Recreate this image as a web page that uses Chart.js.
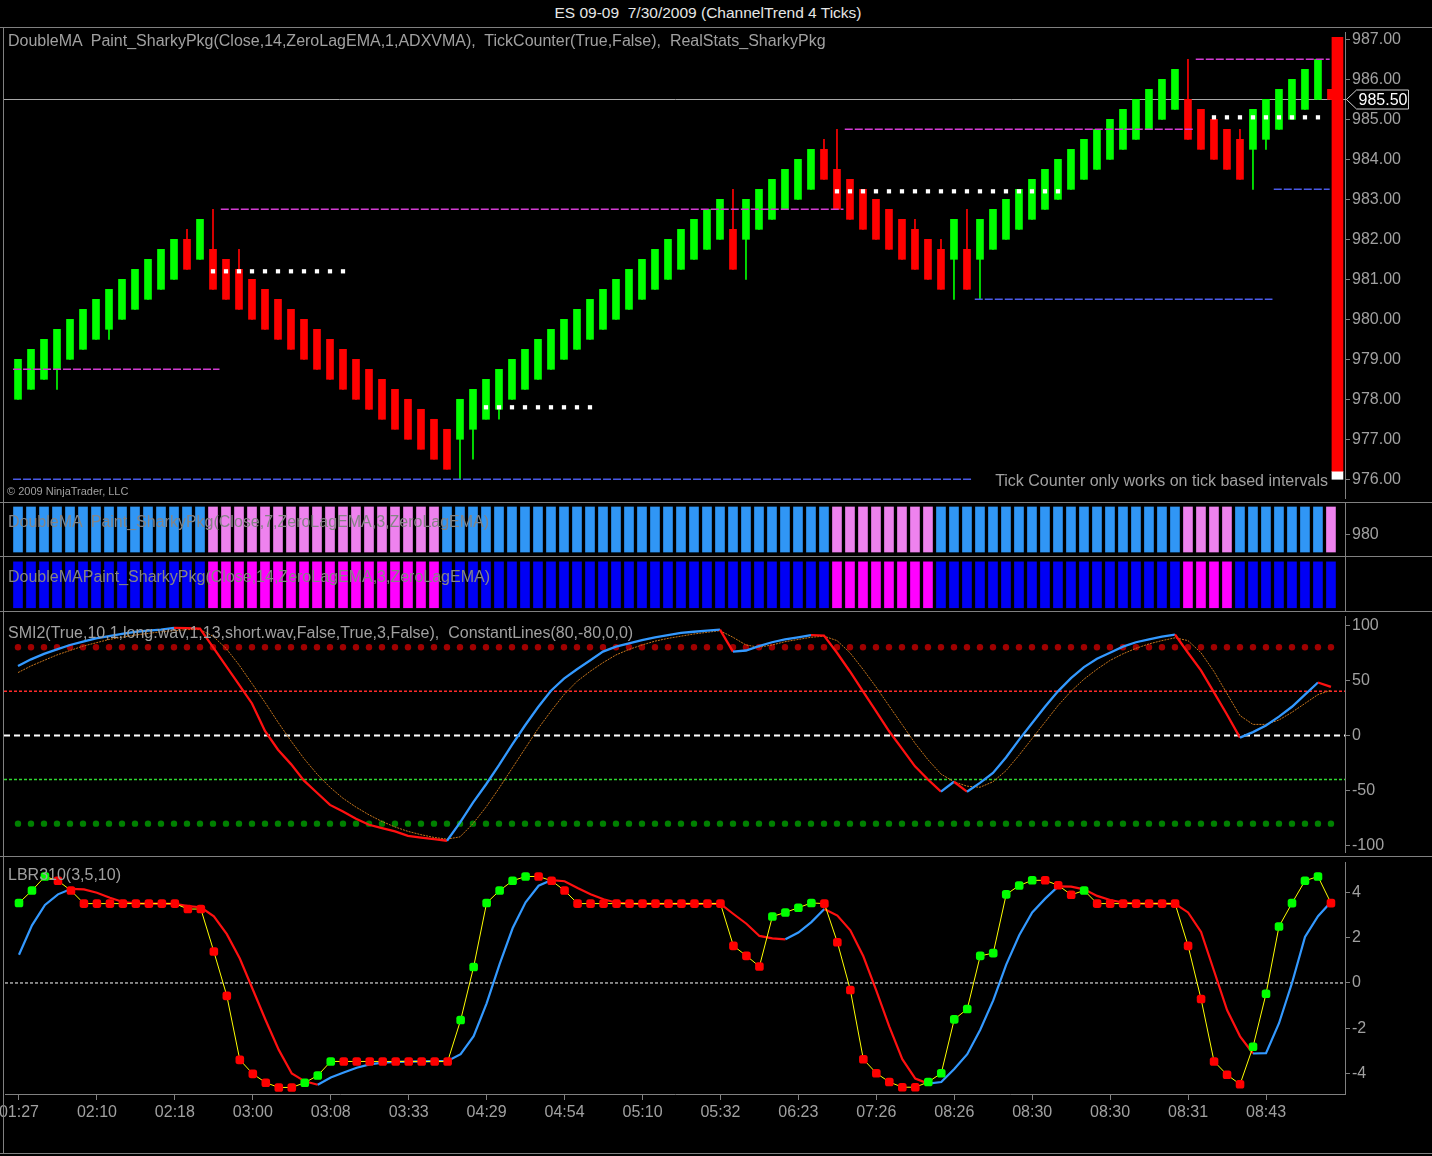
<!DOCTYPE html>
<html>
<head>
<meta charset="utf-8">
<title>ES 09-09 7/30/2009 (ChannelTrend 4 Ticks)</title>
<script src="https://cdn.jsdelivr.net/npm/chart.js@4.4.1/dist/chart.umd.min.js"></script>
<style>
  html, body { margin: 0; padding: 0; background: #000; }
  #page { position: relative; width: 1432px; height: 1156px; overflow: hidden; background: #000;
          font-family: "Liberation Sans", Arial, sans-serif; }
  canvas { position: absolute; left: 0; }
  .hline { position: absolute; left: 0; width: 1432px; height: 1px; background: #808080; }
  .vline { position: absolute; width: 1px; background: #808080; }
  .lbl { position: absolute; white-space: pre; color: #a0a0a0; font-size: 16px; line-height: 18px; }
</style>
</head>
<body>
<div id="page">
  <canvas id="main" width="1432" height="474" style="top:28px"></canvas>
  <canvas id="strip1" width="1432" height="53" style="top:503px"></canvas>
  <canvas id="strip2" width="1432" height="54" style="top:557px"></canvas>
  <canvas id="smi" width="1432" height="244" style="top:612px"></canvas>
  <canvas id="lbr" width="1432" height="296" style="top:857px"></canvas>

  <div class="hline" style="top:27px"></div>
  <div class="hline" style="top:502px"></div>
  <div class="hline" style="top:556px"></div>
  <div class="hline" style="top:611px"></div>
  <div class="hline" style="top:856px"></div>
  <div class="hline" style="top:1153px"></div>
  <div class="vline" style="left:3px;top:27px;height:1127px"></div>

  <div class="lbl" style="left:0;width:1416px;text-align:center;top:4px;font-size:15.5px;color:#e6e6e6">ES 09-09  7/30/2009 (ChannelTrend 4 Ticks)</div>
  <div class="lbl" style="left:8px;top:32px">DoubleMA  Paint_SharkyPkg(Close,14,ZeroLagEMA,1,ADXVMA),  TickCounter(True,False),  RealStats_SharkyPkg</div>
  <div class="lbl" style="left:7px;top:485px;font-size:11px;line-height:13px">© 2009 NinjaTrader, LLC</div>
  <div class="lbl" style="right:104px;top:472px">Tick Counter only works on tick based intervals</div>
  <div class="lbl" style="left:8px;top:513px;color:#858585">DoubleMA  Paint_SharkyPkg(Close,7,ZeroLagEMA,3,ZeroLagEMA)</div>
  <div class="lbl" style="left:8px;top:568px;color:#858585">DoubleMAPaint_SharkyPkg(Close,14,ZeroLagEMA,3,ZeroLagEMA)</div>
  <div class="lbl" style="left:8px;top:624px">SMI2(True,10,1,long.wav,1,13,short.wav,False,True,3,False),  ConstantLines(80,-80,0,0)</div>
  <div class="lbl" style="left:8px;top:866px">LBR310(3,5,10)</div>
</div>
<script>
// ---- price bars (ChannelTrend 4 ticks) ----
const opens = [978,978.25,978.5,978.75,979,979.25,979.5,979.75,980,980.25,980.5,980.75,981,982,981.5,981.75,981.5,981.25,981,980.75,
  980.5,980.25,980,979.75,979.5,979.25,979,978.75,978.5,978.25,978,977.75,977.5,977.25,977,977.25,977.5,977.75,978,978.25,
  978.5,978.75,979,979.25,979.5,979.75,980,980.25,980.5,980.75,981,981.25,981.5,981.75,982,982.25,982,982.25,982.5,982.75,
  983,983.25,984.25,983.75,983.5,983.25,983,982.75,982.5,982.25,982,981.75,981.5,981.75,981.5,981.75,982,982.25,982.5,982.75,
  983,983.25,983.5,983.75,984,984.25,984.5,984.75,985,985.25,985.5,985.25,985,984.75,984.5,984.25,984.5,984.75,985,985.25,
  985.5,985.75];
const closes = [979,979.25,979.5,979.75,980,980.25,980.5,980.75,981,981.25,981.5,981.75,982,981.25,982.5,980.75,980.5,980.25,980,979.75,
  979.5,979.25,979,978.75,978.5,978.25,978,977.75,977.5,977.25,977,976.75,976.5,976.25,978,978.25,978.5,978.75,979,979.25,
  979.5,979.75,980,980.25,980.5,980.75,981,981.25,981.5,981.75,982,982.25,982.5,982.75,983,981.25,983,983.25,983.5,983.75,
  984,984.25,983.5,982.75,982.5,982.25,982,981.75,981.5,981.25,981,980.75,982.5,980.75,982.5,982.75,983,983.25,983.5,983.75,
  984,984.25,984.5,984.75,985,985.25,985.5,985.75,986,986.25,984.5,984.25,984,983.75,983.5,985.25,985.5,985.75,986,986.25,
  986.5,985.5];
const highs = [979,979.25,979.5,979.75,980,980.25,980.5,980.75,981,981.25,981.5,981.75,982,982.25,982.5,982.75,981.5,981.75,981,980.75,
  980.5,980.25,980,979.75,979.5,979.25,979,978.75,978.5,978.25,978,977.75,977.5,977.25,978,978.25,978.5,978.75,979,979.25,
  979.5,979.75,980,980.25,980.5,980.75,981,981.25,981.5,981.75,982,982.25,982.5,982.75,983,983.25,983,983.25,983.5,983.75,
  984,984.25,984.5,984.75,983.5,983.25,983,982.75,982.5,982.5,982,982,982.5,982.75,982.5,982.75,983,983.25,983.5,983.75,
  984,984.25,984.5,984.75,985,985.25,985.5,985.75,986,986.25,986.5,985.25,985,984.75,984.75,985.25,985.5,985.75,986,986.25,
  986.5,985.75];
const lows = [978,978.25,978.5,978.25,979,979.25,979.5,979.5,980,980.25,980.5,980.75,981,981.25,981.5,980.75,980.5,980.25,980,979.75,
  979.5,979.25,979,978.75,978.5,978.25,978,977.75,977.5,977.25,977,976.75,976.5,976.25,976,976.5,977.5,977.5,978,978.25,
  978.5,978.75,979,979.25,979.5,979.75,980,980.25,980.5,980.75,981,981.25,981.5,981.75,982,981.25,981,982.25,982.5,982.75,
  983,983.25,983.5,982.75,982.5,982.25,982,981.75,981.5,981.25,981,980.75,980.5,980.75,980.5,981.75,982,982.25,982.5,982.75,
  983,983.25,983.5,983.75,984,984.25,984.5,984.75,985,985.25,984.5,984.25,984,983.75,983.5,983.25,984.25,984.75,985,985.25,
  985.5,985.5];

// swing lines [fromBar, toBar, price]
const swingHighs = [[-0.38, 15.5, 978.75], [15.6, 63.5, 982.75], [63.6, 90.5, 984.75], [90.6, 100.9, 986.5]];
const swingLows = [[-0.38, 73.4, 976.0], [73.6, 96.5, 980.5], [96.6, 100.9, 983.25]];
// white stop dots [fromBar, toBar, price]
const stopLines = [[15, 25, 981.2], [36, 44, 977.8], [63, 80, 983.2], [92, 100, 985.05]];
// tick counter bar
const counterBar = 101.5;
const counterRed = [976.2, 987.05];
const counterWhite = [976.0, 976.2];
const priceTicks = [976, 977, 978, 979, 980, 981, 982, 983, 984, 985, 986, 987];

// ---- DoubleMA paint strips (1 = up colour) ----
const strip1Up = [1,1,1,1,1,1,1,1,1,1,1,1,1,1,1,
  0,0,0,0,0,0,0,0,0,0,0,0,0,0,0,0,0,0,
  1,1,1,1,1,1,1,1,1,1,1,1,1,1,1,1,1,1,1,1,1,1,1,1,1,1,1,1,1,1,
  0,0,0,0,0,0,0,0,
  1,1,1,1,1,1,1,1,1,1,1,1,1,1,1,1,1,1,1,
  0,0,0,0,
  1,1,1,1,1,1,1,
  0];
const strip2Up = [1,1,1,1,1,1,1,1,1,1,1,1,1,1,1,
  0,0,0,0,0,0,0,0,0,0,0,0,0,0,0,0,0,0,
  1,1,1,1,1,1,1,1,1,1,1,1,1,1,1,1,1,1,1,1,1,1,1,1,1,1,1,1,1,1,
  0,0,0,0,0,0,0,0,
  1,1,1,1,1,1,1,1,1,1,1,1,1,1,1,1,1,1,1,
  0,0,0,0,
  1,1,1,1,1,1,1,
  1];

// ---- SMI2 ----
const smiMain = [63,69,74,78,82,85,88,90,92,94,95,96,97.5,97.3,96.8,
  80,63,46,29,4,-13,-26,-41,-52,-63,-69,-75.6,-81,-84,-87,-91,-92.6,-94,-95.5,
  -79,-61,-44.5,-27,-8.5,9,25.5,40.5,51.5,60,68,76,80.5,83.5,86.5,89,91,93,94,95,96,
  76,77,81,84.5,87,89,91,90.5,
  75,58,40,22,4,-12,-28,-40,-51,-42,-51,
  -43,-34,-20,-4,11,26,40,52,62,69.5,75,80.5,84.5,87,89.5,91.5,
  75,59,39,19,-2,
  3,9,17,26,37,48,44];
const smiSignal = [57,63,68,73,77,81,84,87,89,91,92.5,94,95,96,96,
  90,79,64,47,30,12,-5,-21,-35,-47,-57,-65,-72,-78,-83,-87,-90,-92.5,-94,
  -92,-80,-65,-48,-30,-12,6,22,37,49,58,66,73,78,82,85.5,88,90,92,93.5,95,
  89,82,80,82,85,87,89,90,
  86,75,60,44,27,10,-7,-22,-35,-42,-46,
  -47,-42,-32,-18,-3,12,27,40,51,60,68,74,79,83,86,88.5,
  86,75,58,38,18,
  10,10,14,21,29,37,41];
const smiDots = [80, -80];
const smiThin = [40, -40];
const smiTicks = [100, 50, 0, -50, -100];

// ---- LBR310 ----
const lbrFast = [3.54,4.09,4.71,4.52,4.09,3.51,3.51,3.51,3.51,3.51,3.51,3.51,3.51,3.27,3.27,1.39,-0.57,-3.4,-4.02,-4.41,-4.62,-4.62,-4.41,-4.09,-3.47,
  -3.47,-3.47,-3.47,-3.47,-3.47,-3.47,-3.47,-3.47,-3.47,
  -1.64,0.71,3.54,4.09,4.52,4.71,4.71,4.52,4.09,3.51,
  3.51,3.51,3.51,3.51,3.51,3.51,3.51,3.51,3.51,3.51,3.51,
  1.64,1.2,0.73,2.94,3.12,3.33,3.54,3.51,1.8,-0.31,-3.37,-3.99,-4.38,-4.61,-4.61,-4.38,-3.99,-1.61,-1.15,1.2,1.32,3.92,4.31,4.54,4.54,4.32,3.9,4.09,3.51,
  3.51,3.51,3.51,3.51,3.51,3.51,
  1.64,-0.71,-3.47,-4.06,-4.48,-2.82,-0.48,2.5,3.53,4.52,4.71,3.53];
const lbrSlow = [1.25,2.55,3.45,3.92,4.16,4.14,3.99,3.77,3.58,3.52,3.51,3.51,3.5,3.4,3.35,2.95,2.16,1.08,-0.29,-1.66,-2.96,-4.0,-4.35,-4.5,-4.18,
  -3.96,-3.75,-3.6,-3.52,-3.49,-3.48,-3.47,-3.46,-3.45,
  -3.15,-2.35,-0.9,0.83,2.42,3.57,4.3,4.55,4.5,4.2,
  3.92,3.7,3.55,3.51,3.5,3.5,3.5,3.5,3.5,3.5,3.5,
  3.05,2.62,2.08,1.97,1.93,2.23,2.69,3.27,2.98,2.33,1.18,-0.34,-1.93,-3.37,-4.23,-4.45,-4.38,-3.8,-3.15,-2.07,-0.77,0.81,2.11,3.12,3.73,4.27,4.26,4.14,3.85,
  3.67,3.55,3.52,3.51,3.51,3.5,
  3.12,2.26,0.53,-1.2,-2.36,-3.12,-3.1,-1.78,0,2.04,2.95,3.58];
const lbrTicks = [4, 2, 0, -2, -4];

// ---- time axis ----
const labelBars = [0, 6, 12, 18, 24, 30, 36, 42, 48, 54, 60, 66, 72, 78, 84, 90, 96];
const timeLabels = ['01:27', '02:10', '02:18', '03:00', '03:08', '03:33', '04:29', '04:54', '05:10',
  '05:32', '06:23', '07:26', '08:26', '08:30', '08:30', '08:31', '08:43'];

const FONT = '"Liberation Sans", Arial, sans-serif';
const GRID = '#808080';
const TXT = '#a0a0a0';
const UP = '#00ff00', DOWN = '#ff0000';
const LINE_UP = '#3399ff', LINE_DOWN = '#ff1010';
const X_MIN = -1.077, X_MAX = 102.08;

const bars = opens.map((_, i) => i);
const pts = arr => arr.map((v, i) => ({ x: i, y: v }));
const flat = v => [{ x: X_MIN, y: v }, { x: X_MAX, y: v }];

function xAxis() {
  return { type: 'linear', min: X_MIN, max: X_MAX, offset: false, display: false };
}

function yAxis(min, max, ticks, fmt, showTicks = true) {
  return {
    position: 'right', min, max,
    afterBuildTicks: s => { s.ticks = ticks.map(v => ({ value: v })); },
    afterFit: s => { s.width = 87; s.paddingTop = 0; s.paddingBottom = 0; },
    border: { display: true, color: GRID },
    grid: { drawOnChartArea: false, drawTicks: showTicks, tickLength: 5, color: GRID },
    ticks: { display: showTicks, color: TXT, font: { family: FONT, size: 16 }, padding: 2, callback: fmt }
  };
}

function baseOptions(scales) {
  return {
    responsive: false, animation: false, devicePixelRatio: 1,
    layout: { padding: { left: 4, right: 0, top: 0, bottom: 0 } },
    plugins: { legend: { display: false }, tooltip: { enabled: false } },
    scales
  };
}

const lineByDirection = (up, down) => ({
  borderColor: ctx => ctx.p1.parsed.y > ctx.p0.parsed.y ? up : down
});

// ---------- main price panel ----------
const candleColors = bars.map(i => closes[i] >= opens[i] ? UP : DOWN);
const stopDots = [];
stopLines.forEach(([a, b, p]) => { for (let i = a; i <= b; i++) stopDots.push({ x: i, y: p }); });

const swingSets = [];
swingHighs.forEach(([a, b, p]) => swingSets.push({
  type: 'line', data: [{ x: a, y: p }, { x: b, y: p }], borderColor: '#d23cd2',
  borderWidth: 1.5, borderDash: [8, 2], pointRadius: 0, order: 1
}));
swingLows.forEach(([a, b, p]) => swingSets.push({
  type: 'line', data: [{ x: a, y: p }, { x: b, y: p }], borderColor: '#4a5ae6',
  borderWidth: 1.5, borderDash: [8, 2], pointRadius: 0, order: 1
}));

const lastPrice = {
  id: 'lastPrice',
  beforeDatasetsDraw(chart) {
    const { ctx, chartArea, scales } = chart;
    const y = Math.round(scales.y.getPixelForValue(closes[closes.length - 1])) + 0.5;
    ctx.save();
    ctx.strokeStyle = '#a8a8a8';
    ctx.lineWidth = 1;
    ctx.beginPath();
    ctx.moveTo(chartArea.left, y);
    ctx.lineTo(chartArea.right + 2, y);
    ctx.stroke();
    ctx.restore();
  },
  afterDraw(chart) {
    const { ctx, chartArea, scales } = chart;
    const price = closes[closes.length - 1];
    const y = Math.round(scales.y.getPixelForValue(price)) + 0.5;
    const x0 = chartArea.right + 1.5;
    ctx.save();
    ctx.beginPath();
    ctx.moveTo(x0, y);
    ctx.lineTo(x0 + 10, y - 9.5);
    ctx.lineTo(x0 + 62, y - 9.5);
    ctx.lineTo(x0 + 62, y + 9.5);
    ctx.lineTo(x0 + 10, y + 9.5);
    ctx.closePath();
    ctx.fillStyle = '#000';
    ctx.fill();
    ctx.strokeStyle = '#d0d0d0';
    ctx.lineWidth = 1;
    ctx.stroke();
    ctx.fillStyle = '#ffffff';
    ctx.font = '16px ' + FONT;
    ctx.textBaseline = 'middle';
    ctx.fillText(price.toFixed(2), x0 + 12, y + 1);
    ctx.restore();
  }
};

new Chart(document.getElementById('main'), {
  type: 'bar',
  data: {
    datasets: [
      { type: 'line', data: stopDots, showLine: false, pointStyle: 'rect', pointRadius: 3,
        pointBackgroundColor: '#ffffff', pointBorderWidth: 0, order: 0 },
      ...swingSets,
      { data: bars.map(i => ({ x: i, y: [Math.min(opens[i], closes[i]), Math.max(opens[i], closes[i])] })),
        backgroundColor: candleColors, barThickness: 7, grouped: false, order: 2 },
      { data: bars.map(i => ({ x: i, y: [lows[i], highs[i]] })),
        backgroundColor: candleColors, barThickness: 1, grouped: false, order: 3 },
      { data: [{ x: counterBar, y: counterRed }], backgroundColor: '#ff0000', barThickness: 11, grouped: false, order: 4 },
      { data: [{ x: counterBar, y: counterWhite }], backgroundColor: '#ffffff', barThickness: 11, grouped: false, order: 4 }
    ]
  },
  options: baseOptions({
    x: xAxis(),
    y: yAxis(975.532, 987.184, priceTicks, v => v.toFixed(2))
  }),
  plugins: [lastPrice]
});

// ---------- paint strips ----------
function strip(id, states, upColor, downColor, max, lo, hi, ticks, tickLabels) {
  new Chart(document.getElementById(id), {
    type: 'bar',
    data: {
      datasets: [{
        data: bars.map(i => ({ x: i, y: [lo, hi] })),
        backgroundColor: states.map(s => s ? upColor : downColor),
        barThickness: 9, grouped: false
      }]
    },
    options: baseOptions({
      x: xAxis(),
      y: yAxis(0, max, ticks, (v, k) => tickLabels[k], ticks.length > 0)
    })
  });
}
strip('strip1', strip1Up, '#3096f5', '#ee82ee', 10, 0.75, 9.25, [4], ['980']);
strip('strip2', strip2Up, '#0000f5', '#ff00ff', 10, 0.6, 9.1, [], []);

// ---------- SMI2 ----------
new Chart(document.getElementById('smi'), {
  type: 'line',
  data: {
    datasets: [
      { data: pts(smiMain), borderWidth: 2.3, borderColor: LINE_UP, segment: lineByDirection(LINE_UP, LINE_DOWN),
        pointRadius: 0, order: 0 },
      { data: pts(smiSignal), borderWidth: 1, borderColor: '#c8761c', borderDash: [2, 1], pointRadius: 0, order: 1 },
      { data: bars.map(i => ({ x: i, y: smiDots[0] })), showLine: false, pointRadius: 3.2,
        pointBackgroundColor: '#a00000', pointBorderWidth: 0, order: 2 },
      { data: bars.map(i => ({ x: i, y: smiDots[1] })), showLine: false, pointRadius: 3.2,
        pointBackgroundColor: '#008000', pointBorderWidth: 0, order: 2 },
      { data: flat(smiThin[0]), borderColor: '#ff2a2a', borderWidth: 1.4, borderDash: [3, 2], pointRadius: 0, order: 3 },
      { data: flat(smiThin[1]), borderColor: '#30d830', borderWidth: 1.4, borderDash: [3, 2], pointRadius: 0, order: 3 },
      { data: flat(0), borderColor: '#ffffff', borderWidth: 2, borderDash: [6, 4], pointRadius: 0, order: 3 }
    ]
  },
  options: baseOptions({
    x: xAxis(),
    y: yAxis(-105.7, 108.3, smiTicks, v => String(v))
  })
});

// ---------- LBR310 ----------
new Chart(document.getElementById('lbr'), {
  type: 'line',
  data: {
    datasets: [
      { data: pts(lbrFast), borderColor: '#ffff00', borderWidth: 1, pointStyle: 'rectRounded', pointRadius: 5,
        pointBorderWidth: 0,
        pointBackgroundColor: ctx => (ctx.dataIndex === 0 || lbrFast[ctx.dataIndex] > lbrFast[ctx.dataIndex - 1]) ? UP : DOWN,
        order: 0 },
      { data: pts(lbrSlow), borderWidth: 2.2, borderColor: LINE_UP, segment: lineByDirection(LINE_UP, LINE_DOWN),
        pointRadius: 0, order: 1 },
      { data: flat(0), borderColor: '#ffffff', borderWidth: 1, borderDash: [3, 2], pointRadius: 0, order: 2 }
    ]
  },
  options: baseOptions({
    x: {
      type: 'linear', min: X_MIN, max: X_MAX, offset: false, position: 'bottom',
      afterBuildTicks: s => { s.ticks = labelBars.map(v => ({ value: v })); },
      afterFit: s => { s.height = 59; s.paddingLeft = 0; s.paddingRight = 0; },
      border: { display: true, color: GRID },
      grid: { drawOnChartArea: false, drawTicks: true, tickLength: 6, color: GRID },
      ticks: { color: TXT, font: { family: FONT, size: 16 }, padding: 3, maxRotation: 0, autoSkip: false,
               callback: (v, k) => timeLabels[k] }
    },
    y: yAxis(-4.91, 5.35, lbrTicks, v => String(v))
  })
});
</script>
</body>
</html>
